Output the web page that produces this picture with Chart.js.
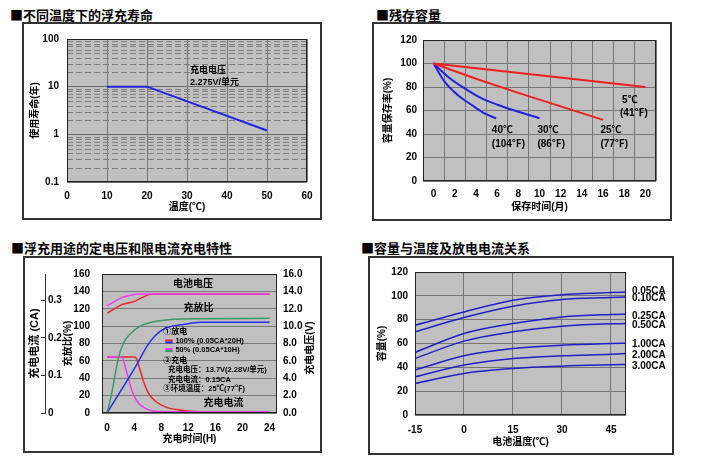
<!DOCTYPE html>
<html>
<head>
<meta charset="utf-8">
<script src="https://cdn.jsdelivr.net/npm/chart.js@4.4.1/dist/chart.umd.min.js"></script>
<style>
  body { margin: 0; background: #fff; width: 713px; height: 467px; position: relative; overflow: hidden; }
  .ttl { position: absolute; font-family: "Noto Sans CJK SC", sans-serif; font-size: 13px; font-weight: bold; line-height: 16px; color: #000; white-space: nowrap; }
  .frame { position: absolute; border: 2px solid #333; box-sizing: border-box; }
  canvas { position: absolute; }
</style>
</head>
<body>
<div class="ttl" style="left:10px;top:7px">■不同温度下的浮充寿命</div>
<div class="ttl" style="left:376px;top:7px">■残存容量</div>
<div class="ttl" style="left:11px;top:240px">■浮充用途的定电压和限电流充电特性</div>
<div class="ttl" style="left:361px;top:240px">■容量与温度及放电电流关系</div>

<div class="frame" style="left:22px;top:22px;width:300px;height:198px"></div>
<div class="frame" style="left:372px;top:22px;width:300px;height:199px"></div>
<div class="frame" style="left:23px;top:256px;width:299px;height:197px"></div>
<div class="frame" style="left:368px;top:256px;width:306px;height:199px"></div>

<canvas id="c1" width="300" height="198" style="left:22px;top:22px"></canvas>
<canvas id="c2" width="300" height="199" style="left:372px;top:22px"></canvas>
<canvas id="c3" width="299" height="197" style="left:23px;top:256px"></canvas>
<canvas id="c4" width="306" height="199" style="left:368px;top:256px"></canvas>

<script>
// ---- panel 1: float life vs temperature
const lifeTemp = [10, 20, 50];
const lifeYears = [10, 10, 1.2];
const lifeXTicks = [0, 10, 20, 30, 40, 50, 60];
const lifeYTicks = [0.1, 1, 10, 100];
const lifeYLabels = ['0.1', '1', '10', '100'];

// ---- panel 2: remaining capacity vs storage months
const storeTicks = [0, 2, 4, 6, 8, 10, 12, 14, 16, 18, 20];
const m5 = [0, 20];
const cap5 = [100, 80];
const m25 = [0, 4, 8, 12, 16];
const cap25 = [100, 87, 75, 63.5, 52];
const m30 = [0, 1.35, 2.9, 4.5, 6.1, 8, 10];
const cap30 = [100, 88.8, 79, 70.5, 64.7, 59, 53.4];
const m40 = [0, 1, 2.3, 3.6, 4.8, 5.9];
const cap40 = [100, 85, 73, 64.7, 57.6, 53.4];

// ---- panel 3: charge characteristics
const chgXTicks = [0, 4, 8, 12, 16, 20, 24];
const caTicks = [0, 0.1, 0.2, 0.3];
const caLabels = ['0', '0.1', '0.2', '0.3'];
const volt100T = [0, 1, 2.2, 3.9, 4.9, 6.2, 7, 24];
const volt100 = [11.5, 11.95, 12.5, 12.8, 13.2, 13.65, 13.7, 13.7];
const volt50T = [0, 1, 2.2, 3.4, 4.4, 24];
const volt50 = [12.35, 12.8, 13.3, 13.55, 13.7, 13.7];
const ratio50T = [0, 0.7, 1.2, 1.7, 2.4, 3.4, 4.9, 6.9, 9.8, 13.8, 24];
const ratio50 = [0, 23, 45, 64, 80, 91, 100, 105, 108, 108.5, 109];
const ratio100T = [0, 4.4, 5.9, 7.1, 8.6, 11.3, 13.8, 24];
const ratio100 = [0, 56, 77, 89, 97.5, 102, 104.5, 104.5];
const cur100T = [0, 4.15, 4.9, 5.4, 6.1, 7.1, 8.8, 11.3, 13.8, 18, 24];
const cur100 = [0.149, 0.149, 0.113, 0.083, 0.053, 0.032, 0.015, 0.007, 0.0035, 0.001, 0];
const cur50T = [0, 2.2, 2.7, 3.2, 3.7, 4.4, 5.4, 6.9, 8.3, 10, 24];
const cur50 = [0.149, 0.149, 0.122, 0.088, 0.058, 0.032, 0.015, 0.0046, 0.0035, 0.0035, 0.0035];

// ---- panel 4: capacity vs temperature and discharge current
const capTemp = [-15, 0, 15, 30, 45, 50];
const capXTicks = [-15, 0, 15, 30, 45];
const rateNames = ['0.05CA', '0.10CA', '0.25CA', '0.50CA', '1.00CA', '2.00CA', '3.00CA'];
const cap005 = [75.3, 86.5, 96.3, 101, 102.7, 103.3];
const cap010 = [69.8, 81.8, 91.3, 97, 98.5, 99];
const cap025 = [52.5, 68.4, 76.7, 82.3, 84.3, 84.6];
const cap050 = [47.4, 62, 69.8, 74.5, 76.5, 76.7];
const cap100 = [37.7, 49.7, 55.8, 58.6, 60, 60.3];
const cap200 = [32, 41.9, 47.4, 49.7, 51, 51.6];
const cap300 = [26.5, 34.9, 39, 41, 42.1, 42.4];
const rateLabelY = [103.5, 97.9, 82.5, 75.5, 59.6, 49.8, 40.5];

const FAM = '"Liberation Sans", Arial, "Noto Sans CJK SC"';
const tickFont = { family: FAM, size: 10, weight: 'bold' };
const titleFont = { family: FAM, size: 10, weight: 'bold' };
const PLOT_BG = '#c0c0c0';
const GRID = '#767676';

function pts(xs, ys) {
  return xs.map((x, i) => ({ x: x, y: ys[i] }));
}

function fixTicks(list) {
  return s => { s.ticks = list.map(v => ({ value: v })); };
}

// gray plot background and dark plot border
const plotBox = {
  id: 'plotBox',
  beforeDraw(chart) {
    const a = chart.chartArea, ctx = chart.ctx;
    ctx.save();
    ctx.fillStyle = PLOT_BG;
    ctx.fillRect(a.left, a.top, a.right - a.left, a.bottom - a.top);
    ctx.restore();
  },
  afterDraw(chart) {
    const a = chart.chartArea, ctx = chart.ctx;
    ctx.save();
    ctx.strokeStyle = '#222';
    ctx.lineWidth = 1;
    ctx.strokeRect(Math.round(a.left) + 0.5, Math.round(a.top) + 0.5, Math.round(a.right - a.left) - 1, Math.round(a.bottom - a.top) - 1);
    ctx.restore();
  }
};

// dashed minor lines of the log axis, placed by the y scale
const minorDash = {
  id: 'minorDash',
  beforeDatasetsDraw(chart) {
    const a = chart.chartArea, ctx = chart.ctx, ys = chart.scales.y;
    ctx.save();
    ctx.strokeStyle = '#7e7e7e';
    ctx.lineWidth = 1;
    ctx.setLineDash([6, 3]);
    ys.ticks.forEach(t => {
      if (t.major) return;
      const py = Math.round(ys.getPixelForValue(t.value)) + 0.5;
      ctx.beginPath();
      ctx.moveTo(a.left, py);
      ctx.lineTo(a.right, py);
      ctx.stroke();
    });
    ctx.restore();
  }
};

// text notes placed in data coordinates
function notes(items) {
  return {
    id: 'notes',
    afterDraw(chart) {
      const ctx = chart.ctx;
      items.forEach(n => {
        const xs = chart.scales[n.xa || 'x'], ys = chart.scales[n.ya || 'y'];
        const px = xs.getPixelForValue(n.x), py = ys.getPixelForValue(n.y);
        ctx.save();
        if (n.x2 !== undefined) {
          ctx.strokeStyle = n.color;
          ctx.lineWidth = 2;
          ctx.beginPath();
          ctx.moveTo(px, py);
          ctx.lineTo(xs.getPixelForValue(n.x2), py);
          ctx.stroke();
        } else {
          ctx.font = 'bold ' + (n.size || 10) + 'px ' + FAM;
          ctx.fillStyle = n.color || '#000';
          ctx.textAlign = n.align || 'left';
          ctx.textBaseline = 'middle';
          ctx.translate(px, py);
          if (n.rot) ctx.rotate(n.rot);
          ctx.fillText(n.text, 0, 0);
        }
        ctx.restore();
      });
    }
  };
}

const base = {
  responsive: false,
  animation: false,
  events: [],
  plugins: { legend: { display: false }, tooltip: { enabled: false } }
};

function line(data, color, width, tension) {
  return {
    data: data, borderColor: color, borderWidth: width || 1.5, pointRadius: 0,
    fill: false, tension: tension || 0, cubicInterpolationMode: tension ? 'monotone' : 'default'
  };
}

// ================= panel 1
new Chart(document.getElementById('c1'), {
  type: 'line',
  data: { datasets: [line(pts(lifeTemp, lifeYears), '#2424e0', 2)] },
  options: Object.assign({}, base, {
    layout: { padding: { top: 17, right: 15, left: 0, bottom: 0 } },
    scales: {
      x: {
        type: 'linear', min: 0, max: 60,
        afterBuildTicks: fixTicks(lifeXTicks),
        afterFit: s => { s.height = 38; },
        grid: { color: GRID, drawTicks: false },
        border: { display: false },
        ticks: { font: tickFont, color: '#000', padding: 8, maxRotation: 0, autoSkip: false },
        title: { display: true, text: '温度(℃)', font: titleFont, color: '#000', padding: { top: 0, bottom: 7 } }
      },
      y: {
        type: 'logarithmic', min: 0.1, max: 100,
        afterBuildTicks: s => {
          const t = [];
          [0.1, 1, 10].forEach(d => {
            for (let m = 1; m < 10; m++) t.push({ value: Math.round(m * d * 1000) / 1000, major: m === 1 });
          });
          t.push({ value: 100, major: true });
          s.ticks = t;
        },
        afterFit: s => { s.width = 45; },
        grid: {
          drawTicks: false,
          color: c => (c.tick && c.tick.major) ? '#6a6a6a' : 'rgba(0,0,0,0)'
        },
        border: { display: false },
        ticks: {
          font: tickFont, color: '#000', padding: 8, autoSkip: false,
          callback: v => { const k = lifeYTicks.indexOf(v); return k >= 0 ? lifeYLabels[k] : ''; }
        },
        title: { display: true, text: '使用寿命(年)', font: titleFont, color: '#000', padding: { top: 7, bottom: 0 } }
      }
    }
  }),
  plugins: [plotBox, minorDash, notes([
    { text: '充电电压', x: 30.75, y: 22, size: 9 },
    { text: '2.275V/单元', x: 30.75, y: 12.5, size: 9 }
  ])]
});

// ================= panel 2
new Chart(document.getElementById('c2'), {
  type: 'line',
  data: {
    datasets: [
      line(pts(m5, cap5), '#ee2020', 2),
      line(pts(m25, cap25), '#ee2020', 2),
      line(pts(m30, cap30), '#2222dd', 2, 0.4),
      line(pts(m40, cap40), '#2222dd', 2, 0.4)
    ]
  },
  options: Object.assign({}, base, {
    layout: { padding: { top: 18, right: 16, left: 0, bottom: 0 } },
    scales: {
      x: {
        type: 'linear', min: -1, max: 21,
        afterBuildTicks: s => {
          const t = [];
          for (let v = -1; v <= 21; v++) t.push({ value: v });
          s.ticks = t;
        },
        afterFit: s => { s.height = 40; },
        grid: { drawTicks: false, color: c => (c.tick && Math.abs(c.tick.value % 2) === 1) ? GRID : 'rgba(0,0,0,0)' },
        border: { display: false },
        ticks: {
          font: tickFont, color: '#000', padding: 7, maxRotation: 0, autoSkip: false,
          callback: v => storeTicks.indexOf(v) >= 0 ? String(v) : ''
        },
        title: { display: true, text: '保存时间(月)', font: titleFont, color: '#000', padding: { top: 0, bottom: 8 } }
      },
      y: {
        min: 0, max: 120,
        ticks: { stepSize: 20, font: tickFont, color: '#000', padding: 6, autoSkip: false },
        afterFit: s => { s.width = 51; },
        grid: { drawTicks: false, color: GRID },
        border: { display: false },
        title: { display: true, text: '容量保存率(%)', font: titleFont, color: '#000', padding: { top: 10, bottom: 0 } }
      }
    }
  }),
  plugins: [plotBox, notes([
    { text: '5℃', x: 17.8, y: 68.9 },
    { text: '(41℉)', x: 17.6, y: 57.9 },
    { text: '25℃', x: 15.75, y: 43.4 },
    { text: '(77℉)', x: 15.75, y: 31.5 },
    { text: '30℃', x: 9.8, y: 43.4 },
    { text: '(86℉)', x: 9.8, y: 31.5 },
    { text: '40℃', x: 5.5, y: 43.4 },
    { text: '(104℉)', x: 5.5, y: 31.5 }
  ])]
});

// ================= panel 3
const RED = '#e82828', MAG = '#ee3cee', GRN = '#3a9a6a', BLU = '#2430e8';
new Chart(document.getElementById('c3'), {
  type: 'line',
  data: {
    datasets: [
      Object.assign(line(pts(volt50T, volt50), MAG, 1.5), { yAxisID: 'yV' }),
      Object.assign(line(pts(volt100T, volt100), RED, 1.5), { yAxisID: 'yV' }),
      Object.assign(line(pts(ratio50T, ratio50), GRN, 1.5, 0.4), { yAxisID: 'y' }),
      Object.assign(line(pts(ratio100T, ratio100), BLU, 1.5, 0.4), { yAxisID: 'y' }),
      Object.assign(line(pts(cur50T, cur50), MAG, 1.5, 0.4), { yAxisID: 'yCA' }),
      Object.assign(line(pts(cur100T, cur100), RED, 1.5, 0.4), { yAxisID: 'yCA' })
    ]
  },
  options: Object.assign({}, base, {
    layout: { padding: { top: 12, right: 0, left: 0, bottom: 0 } },
    scales: {
      x: {
        type: 'linear', min: -0.75, max: 25.1,
        afterBuildTicks: fixTicks(chgXTicks),
        afterFit: s => { s.height = 40; },
        grid: { display: false, drawTicks: false },
        border: { display: false },
        ticks: { font: tickFont, color: '#000', padding: 9, maxRotation: 0, autoSkip: false },
        title: { display: true, text: '充电时间(H)', font: titleFont, color: '#000', padding: { top: 0, bottom: 8 } }
      },
      y: {
        position: 'left', weight: 0, min: 0, max: 160,
        ticks: { stepSize: 20, font: tickFont, color: '#000', padding: 12, autoSkip: false },
        afterFit: s => { s.width = 57; },
        grid: { drawTicks: false, color: '#7a7a7a' },
        border: { display: false },
        title: { display: true, text: '充放比(%)', font: titleFont, color: '#000', padding: { top: 17, bottom: 0 } }
      },
      yCA: {
        position: 'left', weight: 5, min: 0, max: 0.37,
        afterBuildTicks: fixTicks(caTicks),
        afterFit: s => { s.width = 22; },
        grid: { drawOnChartArea: false, drawTicks: true, tickLength: 4, color: '#333' },
        border: { display: true, color: '#333', width: 1 },
        ticks: {
          mirror: true, padding: 3, font: tickFont, color: '#000', autoSkip: false,
          callback: v => { const k = caTicks.indexOf(v); return k >= 0 ? caLabels[k] : ''; }
        },
        title: { display: true, text: '充电电流 (CA)', font: { family: FAM, size: 11, weight: 'bold' }, color: '#000', padding: { top: 5, bottom: 0 } }
      },
      yV: {
        position: 'right', min: 0, max: 16,
        ticks: { stepSize: 2, font: tickFont, color: '#000', padding: 6, autoSkip: false, callback: v => v.toFixed(1) },
        afterFit: s => { s.width = 45; },
        grid: { display: false, drawTicks: false },
        border: { display: false }
      }
    }
  }),
  plugins: [plotBox, notes([
    { text: '电池电压', x: 12.7, y: 148.6, size: 10, align: 'center' },
    { text: '充放比', x: 13.5, y: 121, size: 10, align: 'center' },
    { text: '①放电', x: 8.3, y: 93.5, size: 8 },
    { x: 8.6, x2: 9.7, y: 83.6, color: RED },
    { x: 8.6, x2: 9.7, y: 81.2, color: BLU },
    { text: '100% (0.05CA*20H)', x: 10.1, y: 82.4, size: 7.5 },
    { x: 8.6, x2: 9.7, y: 73.7, color: MAG },
    { x: 8.6, x2: 9.7, y: 71.3, color: GRN },
    { text: '50% (0.05CA*10H)', x: 10.1, y: 72.5, size: 7.5 },
    { text: '②充电', x: 8.3, y: 60.4, size: 8 },
    { text: '充电电压：13.7V(2.28V/单元)', x: 9.0, y: 49.3, size: 7.5 },
    { text: '充电电流：0.15CA', x: 9.0, y: 38.3, size: 7.5 },
    { text: '③环境温度：25℃(77℉)', x: 8.3, y: 27.3, size: 7.5 },
    { text: '充电电流', x: 17.2, y: 10.7, size: 10, align: 'center' },
    { text: '充电电压(V)', x: 30.0, y: 74.7, size: 10, align: 'center', rot: -Math.PI / 2 }
  ])]
});

// ================= panel 4
const capSeries = [cap005, cap010, cap025, cap050, cap100, cap200, cap300];
new Chart(document.getElementById('c4'), {
  type: 'line',
  data: { datasets: capSeries.map(s => line(pts(capTemp, s), '#2020c8', 1.5, 0.4)) },
  options: Object.assign({}, base, {
    layout: { padding: { top: 16, right: 48, left: 0, bottom: 0 } },
    scales: {
      x: {
        type: 'linear', min: -15, max: 49.6,
        afterBuildTicks: fixTicks(capXTicks),
        afterFit: s => { s.height = 40; },
        grid: { drawTicks: false, color: GRID },
        border: { display: false },
        ticks: { font: tickFont, color: '#000', padding: 9, maxRotation: 0, autoSkip: false },
        title: { display: true, text: '电池温度(℃)', font: titleFont, color: '#000', padding: { top: 0, bottom: 7 } }
      },
      y: {
        min: 0, max: 120,
        ticks: { stepSize: 20, font: tickFont, color: '#000', padding: 7, autoSkip: false },
        afterFit: s => { s.width = 47; },
        grid: { drawTicks: false, color: GRID },
        border: { display: false },
        title: { display: true, text: '容量(%)', font: titleFont, color: '#000', padding: { top: 8, bottom: 0 } }
      }
    }
  }),
  plugins: [plotBox, notes(rateNames.map((n, i) => ({ text: n, x: 51.4, y: rateLabelY[i], size: 10 })))]
});
</script>
</body>
</html>
